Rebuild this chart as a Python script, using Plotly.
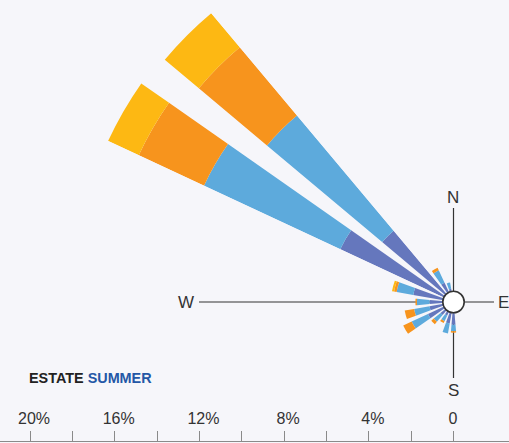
import math
import plotly.graph_objects as go

# ---------------- data (percent frequency per direction and speed class) -------------
directions = [0, 15, 30, 45, 60, 75, 90, 105, 120, 135, 150, 165,
              180, 195, 210, 225, 240, 255, 270, 285, 300, 315, 330, 345]
class_1 = [0.35, 0.3, 0.3, 0.3, 0.3, 0.3, 0.3, 0.3, 0.3, 0.3, 0.3, 0.35,
           1.08, 1.03, 0.70, 0.80, 1.33, 1.15, 1.13, 1.93, 5.90, 4.40, 1.00, 0.63]
class_2 = [0, 0, 0, 0, 0, 0, 0, 0, 0, 0, 0, 0,
           0.30, 0.48, 0.30, 0.42, 0.85, 0.74, 0.60, 0.80, 7.10, 7.10, 0.65, 0.30]
class_3 = [0, 0, 0, 0, 0, 0, 0, 0, 0, 0, 0, 0,
           0.07, 0.00, 0.10, 0.15, 0.44, 0.45, 0.07, 0.12, 3.40, 4.20, 0.13, 0.00]
class_4 = [0, 0, 0, 0, 0, 0, 0, 0, 0, 0, 0, 0,
           0.00, 0.00, 0.00, 0.00, 0.00, 0.00, 0.00, 0.10, 1.60, 2.10, 0.00, 0.00]
class_names = ["classe 1", "classe 2", "classe 3", "classe 4"]
class_colors = ["#6577BD", "#5DAADC", "#F7941D", "#FDB813"]

scale_vals = [-20, -18, -16, -14, -12, -10, -8, -6, -4, -2, 0]
scale_text = ["20%", "", "16%", "", "12%", "", "8%", "", "4%", "", "0\u00a0\u00a0"]

title_main = "ESTATE"
title_sub = "SUMMER"
compass_labels = ["N", "E", "S", "W"]

# ---------------- geometry ----------------
W, H = 509, 443
CX, CY = 453.5, 302.0        # rose centre in pixels
S = 21.175                   # pixels per percent
BG = "#F6F6FA"
FONT = "Arial, Liberation Sans, sans-serif"


def xd(px):
    return (px - CX) / S


def yd(py):
    return (CY - py) / S


def sector_bbox(sector):
    a0 = sector[0] % 360
    a1 = a0 + (sector[1] - sector[0])
    ax0, ay0 = math.cos(math.radians(a0)), math.sin(math.radians(a0))
    ax1, ay1 = math.cos(math.radians(a1)), math.sin(math.radians(a1))
    if (a0 <= 0 <= a1) or (a0 > 0 and a1 >= 360):
        x1 = 1
    elif ax0 <= 0 and ax1 <= 0:
        x1 = 0
    else:
        x1 = max(ax0, ax1)
    if (a0 <= 90 <= a1) or (a0 > 90 and a1 >= 450):
        y1 = 1
    elif ay0 <= 0 and ay1 <= 0:
        y1 = 0
    else:
        y1 = max(ay0, ay1)
    if (a0 <= 180 <= a1) or (a0 > 180 and a1 >= 540):
        x0 = -1
    elif ax0 >= 0 and ax1 >= 0:
        x0 = 0
    else:
        x0 = min(ax0, ax1)
    if (a0 <= 270 <= a1) or (a0 > 270 and a1 >= 630):
        y0 = -1
    elif ay0 >= 0 and ay1 >= 0:
        y0 = 0
    else:
        y0 = min(ay0, ay1)
    return x0, y0, x1, y1


def polar_domain(sector, rmax):
    x0, y0, x1, y1 = sector_bbox(sector)
    R = rmax * S
    left, right = CX + R * x0, CX + R * x1
    top, bottom = CY - R * y1, CY - R * y0
    return dict(x=[left / W, right / W], y=[1 - bottom / H, 1 - top / H])


totals = [a + b + c + d for a, b, c, d in zip(class_1, class_2, class_3, class_4)]
big_idx = [i for i, t in enumerate(totals) if t >= 5]
small_idx = [i for i, t in enumerate(totals) if t < 5]

fig = go.Figure()

classes = [class_1, class_2, class_3, class_4]
for subplot, idx in (("polar", big_idx), ("polar2", small_idx)):
    for vals, name, col in zip(classes, class_names, class_colors):
        fig.add_trace(go.Barpolar(
            r=[vals[i] for i in idx],
            theta=[directions[i] for i in idx],
            width=10,
            name=name,
            marker=dict(color=col, line=dict(width=0)),
            subplot=subplot,
            showlegend=False,
            hoverinfo="skip",
        ))

# invisible trace so the cartesian axes are drawn
fig.add_trace(go.Scatter(x=[xd(30)], y=[yd(441)], mode="markers",
                         marker=dict(size=1, opacity=0), showlegend=False,
                         hoverinfo="skip"))

SEC1, R1 = [130, 155], 18.4
SEC2, R2 = [90, 285], 3.2

polar_common = dict(
    bgcolor="rgba(0,0,0,0)",
    hole=0,
    bargap=0,
    barmode="stack",
    angularaxis=dict(visible=False, direction="clockwise", rotation=90,
                     thetaunit="degrees"),
)

p1 = dict(polar_common)
p1.update(sector=SEC1, domain=polar_domain(SEC1, R1),
          radialaxis=dict(visible=False, range=[0, R1], autorange=False))
p2 = dict(polar_common)
p2.update(sector=SEC2, domain=polar_domain(SEC2, R2),
          radialaxis=dict(visible=False, range=[0, R2], autorange=False))

line_col = "#333333"
shapes = [
    dict(type="line", xref="x", yref="y", x0=xd(199), y0=0, x1=0, y1=0,
         line=dict(color=line_col, width=1.2), layer="below"),
    dict(type="line", xref="x", yref="y", x0=0, y0=0, x1=xd(494), y1=0,
         line=dict(color=line_col, width=1.2), layer="below"),
    dict(type="line", xref="x", yref="y", x0=0, y0=yd(208), x1=0, y1=0,
         line=dict(color=line_col, width=1.2), layer="below"),
    dict(type="line", xref="x", yref="y", x0=0, y0=0, x1=0, y1=yd(378),
         line=dict(color=line_col, width=1.2), layer="below"),
    dict(type="circle", xref="x", yref="y",
         x0=-10.7 / S, y0=-10.7 / S, x1=10.7 / S, y1=10.7 / S,
         fillcolor="white", line=dict(color=line_col, width=1.6), layer="above"),
]

lab_font = dict(family=FONT, size=17, color="#333333")
annotations = [
    dict(text=compass_labels[0], x=xd(453), y=yd(197.5), xref="x", yref="y",
         showarrow=False, font=lab_font, xanchor="center", yanchor="middle"),
    dict(text=compass_labels[1], x=xd(496), y=yd(302.5), xref="x", yref="y",
         showarrow=False, font=lab_font, xanchor="left", yanchor="middle"),
    dict(text=compass_labels[2], x=xd(453), y=yd(390), xref="x", yref="y",
         showarrow=False, font=lab_font, xanchor="center", yanchor="middle"),
    dict(text=compass_labels[3], x=xd(185.5), y=yd(302.5), xref="x", yref="y",
         showarrow=False, font=lab_font, xanchor="center", yanchor="middle"),
    dict(text="<b>%s <span style='color:#2457A6'>%s</span></b>" % (title_main, title_sub),
         x=xd(27), y=yd(378), xref="x", yref="y", showarrow=False,
         font=dict(family=FONT, size=14.4, color="#222222"),
         xanchor="left", yanchor="middle"),
]

fig.update_layout(
    width=W, height=H,
    margin=dict(l=0, r=0, t=0, b=0, pad=0),
    paper_bgcolor=BG, plot_bgcolor=BG,
    font=dict(family=FONT),
    polar=p1, polar2=p2,
    xaxis=dict(range=[xd(0), xd(W)], domain=[0, 1], anchor="free",
               position=1 - 441 / H, side="top",
               showline=True, linecolor="#8A8A8A", linewidth=1,
               ticks="outside", ticklen=10, tickcolor="#8A8A8A", tickwidth=1,
               tickvals=scale_vals, ticktext=scale_text,
               tickfont=dict(family=FONT, size=16, color="#333333"),
               ticklabelshift=4, ticklabelstandoff=1,
               showgrid=False, zeroline=False, fixedrange=True),
    yaxis=dict(range=[yd(H), yd(0)], domain=[0, 1], visible=False,
               showgrid=False, zeroline=False, fixedrange=True),
    shapes=shapes,
    annotations=annotations,
    showlegend=False,
)

fig.write_html(
    "out.html",
    config={"displayModeBar": False},
    post_script="document.body.style.margin='0';document.body.style.background='%s';" % BG,
)
